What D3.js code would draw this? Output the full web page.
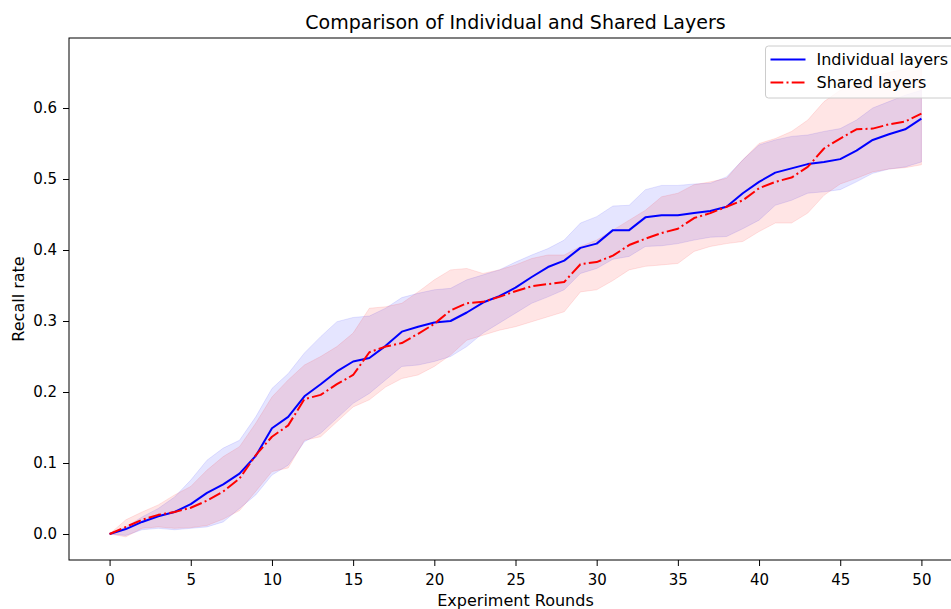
<!DOCTYPE html>
<html>
<head>
<meta charset="utf-8">
<script src="https://cdn.jsdelivr.net/npm/d3@7"></script>
<style>
  body { margin: 0; background: #fff; overflow: hidden; }
  text { font-family: "DejaVu Sans", sans-serif; fill: #000; }
</style>
</head>
<body>
<script>
// data (51 rounds, 0..50)
const rounds = d3.range(0, 51);

const individualMean = [0, 0.007, 0.017, 0.025, 0.031, 0.042, 0.058, 0.070, 0.085, 0.110,
  0.149, 0.165, 0.194, 0.211, 0.229, 0.243, 0.248, 0.265, 0.285, 0.292,
  0.298, 0.300, 0.312, 0.326, 0.335, 0.347, 0.362, 0.376, 0.385, 0.403,
  0.409, 0.428, 0.428, 0.446, 0.449, 0.449, 0.452, 0.455, 0.461, 0.480,
  0.496, 0.509, 0.515, 0.521, 0.524, 0.528, 0.540, 0.555, 0.563, 0.570, 0.585];
const individualUpper = [0, 0.010, 0.024, 0.036, 0.052, 0.076, 0.104, 0.121, 0.132, 0.165,
  0.205, 0.226, 0.255, 0.278, 0.299, 0.305, 0.307, 0.318, 0.333, 0.339,
  0.344, 0.346, 0.358, 0.365, 0.372, 0.383, 0.393, 0.402, 0.414, 0.438,
  0.447, 0.462, 0.463, 0.485, 0.491, 0.491, 0.493, 0.494, 0.503, 0.527,
  0.548, 0.555, 0.560, 0.562, 0.567, 0.571, 0.583, 0.600, 0.609, 0.618, 0.625];
const individualLower = [0, -0.002, 0.006, 0.008, 0.006, 0.008, 0.010, 0.017, 0.036, 0.055,
  0.083, 0.097, 0.130, 0.142, 0.163, 0.184, 0.198, 0.217, 0.236, 0.238,
  0.243, 0.250, 0.264, 0.283, 0.297, 0.311, 0.325, 0.334, 0.344, 0.367,
  0.374, 0.387, 0.391, 0.405, 0.406, 0.409, 0.414, 0.418, 0.419, 0.430,
  0.442, 0.463, 0.470, 0.480, 0.482, 0.485, 0.496, 0.508, 0.514, 0.517, 0.524];

const sharedMean = [0, 0.010, 0.020, 0.027, 0.031, 0.037, 0.047, 0.060, 0.078, 0.111,
  0.137, 0.153, 0.190, 0.196, 0.211, 0.224, 0.256, 0.264, 0.269, 0.282,
  0.296, 0.315, 0.325, 0.327, 0.334, 0.342, 0.349, 0.352, 0.355, 0.380,
  0.383, 0.392, 0.407, 0.416, 0.424, 0.430, 0.445, 0.452, 0.461, 0.470,
  0.487, 0.496, 0.502, 0.517, 0.543, 0.557, 0.570, 0.571, 0.577, 0.581, 0.592];
const sharedUpper = [0, 0.020, 0.031, 0.041, 0.055, 0.067, 0.090, 0.109, 0.123, 0.156,
  0.193, 0.217, 0.238, 0.250, 0.264, 0.283, 0.318, 0.320, 0.325, 0.341,
  0.358, 0.372, 0.374, 0.367, 0.372, 0.379, 0.388, 0.393, 0.393, 0.405,
  0.414, 0.428, 0.442, 0.456, 0.475, 0.480, 0.492, 0.496, 0.501, 0.527,
  0.550, 0.557, 0.567, 0.583, 0.609, 0.625, 0.635, 0.645, 0.650, 0.655, 0.660];
const sharedLower = [0, -0.004, 0.008, 0.010, 0.008, 0.009, 0.012, 0.021, 0.033, 0.060,
  0.088, 0.093, 0.132, 0.137, 0.158, 0.179, 0.189, 0.207, 0.219, 0.224,
  0.236, 0.252, 0.273, 0.280, 0.287, 0.292, 0.299, 0.306, 0.313, 0.341,
  0.344, 0.357, 0.372, 0.377, 0.379, 0.381, 0.398, 0.405, 0.409, 0.412,
  0.426, 0.438, 0.438, 0.452, 0.477, 0.493, 0.501, 0.510, 0.514, 0.516, 0.520];

const xTicks = [0, 5, 10, 15, 20, 25, 30, 35, 40, 45, 50];
const yTicks = [0.0, 0.1, 0.2, 0.3, 0.4, 0.5, 0.6];

const seriesNames = ['Individual layers', 'Shared layers'];
const seriesColors = ['blue', 'red'];

// 基本设置
const width = 951;
const height = 609;
const marginLeft = 69;
const marginTop = 38;
const plotRight = 962;   // right spine sits just past the page edge
const plotBottom = 560;

const x = d3.scaleLinear().domain([-2.5, 52.5]).range([marginLeft, plotRight]);
const y = d3.scaleLinear().domain([-0.0366, 0.6986]).range([plotBottom, marginTop]);

const svg = d3.select('body').append('svg')
  .attr('width', width)
  .attr('height', height);

svg.append('clipPath').attr('id', 'plot-clip')
  .append('rect')
  .attr('x', marginLeft).attr('y', marginTop)
  .attr('width', plotRight - marginLeft).attr('height', plotBottom - marginTop);

const plot = svg.append('g').attr('clip-path', 'url(#plot-clip)');

const series = [
  { mean: individualMean, lo: individualLower, hi: individualUpper, dash: null },
  { mean: sharedMean, lo: sharedLower, hi: sharedUpper, dash: '12.8,3.2,2,3.2' }
];

const area = d3.area()
  .x(i => x(rounds[i]));

series.forEach((s, k) => {
  plot.append('path')
    .datum(rounds.map((r, i) => i))
    .attr('d', area.y0(i => y(s.lo[i])).y1(i => y(s.hi[i])))
    .attr('fill', seriesColors[k])
    .attr('fill-opacity', 0.1)
    .attr('stroke', seriesColors[k])
    .attr('stroke-opacity', 0.1)
    .attr('stroke-width', 1);
});

const line = d3.line();
series.forEach((s, k) => {
  plot.append('path')
    .datum(rounds.map((r, i) => [x(r), y(s.mean[i])]))
    .attr('d', line)
    .attr('fill', 'none')
    .attr('stroke', seriesColors[k])
    .attr('stroke-width', 2)
    .attr('stroke-linejoin', 'round')
    .attr('stroke-dasharray', s.dash);
});

// axes
const xAxis = svg.append('g')
  .attr('transform', `translate(0,${plotBottom})`)
  .call(d3.axisBottom(x).tickValues(xTicks).tickSize(6).tickPadding(8).tickFormat(d3.format('d')));
const yAxis = svg.append('g')
  .attr('transform', `translate(${marginLeft},0)`)
  .call(d3.axisLeft(y).tickValues(yTicks).tickSize(6).tickPadding(6).tickFormat(d3.format('.1f')));

[xAxis, yAxis].forEach(a => {
  a.select('.domain').remove();
  a.selectAll('line').attr('stroke', '#000').attr('stroke-width', 1);
  a.selectAll('text')
    .attr('fill', '#000')
    .style('font-family', '"DejaVu Sans", sans-serif')
    .style('font-size', '15px');
});

// spines
svg.append('rect')
  .attr('x', marginLeft).attr('y', marginTop)
  .attr('width', plotRight - marginLeft).attr('height', plotBottom - marginTop)
  .attr('fill', 'none')
  .attr('stroke', '#000')
  .attr('stroke-width', 1);

// titles
svg.append('text')
  .attr('x', (marginLeft + plotRight) / 2)
  .attr('y', 29)
  .attr('text-anchor', 'middle')
  .style('font-size', '19px')
  .text('Comparison of Individual and Shared Layers');

svg.append('text')
  .attr('x', (marginLeft + plotRight) / 2)
  .attr('y', 606)
  .attr('text-anchor', 'middle')
  .style('font-size', '16px')
  .text('Experiment Rounds');

svg.append('text')
  .attr('transform', `translate(23.5,${(marginTop + plotBottom) / 2}) rotate(-90)`)
  .attr('text-anchor', 'middle')
  .style('font-size', '16px')
  .text('Recall rate');

// legend
const legend = svg.append('g').attr('transform', 'translate(765.5,46)');
legend.append('rect')
  .attr('width', 220).attr('height', 52)
  .attr('rx', 3)
  .attr('fill', 'rgba(255,255,255,0.8)')
  .attr('stroke', '#cccccc')
  .attr('stroke-width', 1);

seriesNames.forEach((name, k) => {
  const row = legend.append('g').attr('transform', `translate(0,${13.5 + k * 23})`);
  row.append('line')
    .attr('x1', 5).attr('x2', 40)
    .attr('stroke', seriesColors[k])
    .attr('stroke-width', 2)
    .attr('stroke-dasharray', series[k].dash);
  row.append('text')
    .attr('x', 51)
    .attr('dy', '0.35em')
    .style('font-size', '16px')
    .text(name);
});
</script>
</body>
</html>
